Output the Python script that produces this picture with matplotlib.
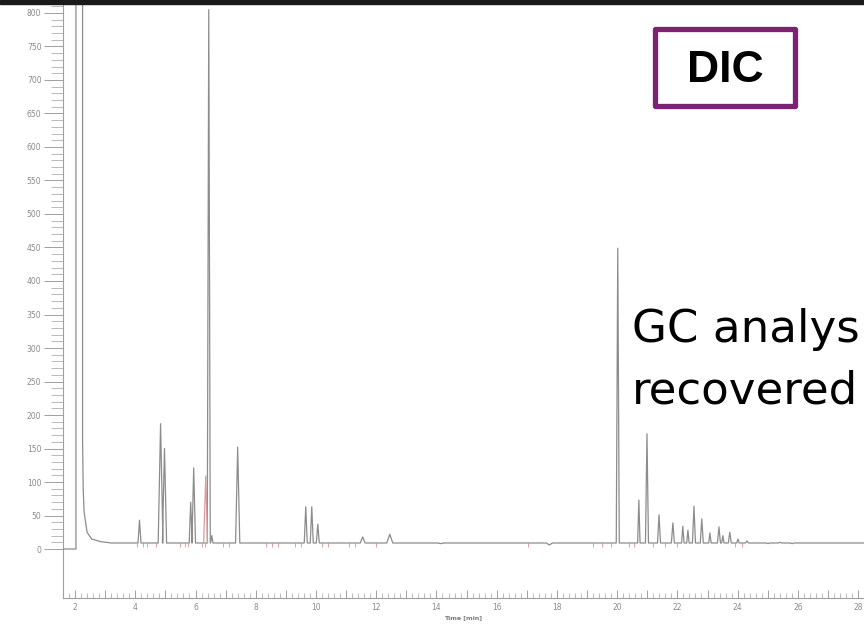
import matplotlib
matplotlib.use('Agg')
import matplotlib.pyplot as plt
from matplotlib.patches import Rectangle
from matplotlib.ticker import MultipleLocator, FixedLocator, FuncFormatter
import numpy as np

# chromatogram (time in min, signal)
BASE = 9
solvent_t = [1.6, 2.03, 2.03, 2.25, 2.25, 2.27, 2.30, 2.40, 2.55, 2.85, 3.2]
solvent_y = [0, 0, 900, 900, 160, 90, 55, 25, 15, 11, BASE]

peak_t = [4.14, 4.84, 4.97, 5.84, 5.94, 6.44, 6.54, 7.40, 9.66, 9.86, 10.06,
          11.55, 12.45, 14.14, 17.75, 20.02, 20.72, 20.99, 21.39, 21.85, 22.18,
          22.35, 22.55, 22.81, 23.08, 23.38, 23.51, 23.74, 24.01, 24.31, 25.01,
          25.41, 25.81]
peak_h = [43, 187, 150, 70, 121, 805, 20, 152, 63, 63, 37,
          18, 22, 8, 6, 449, 73, 172, 51, 39, 34,
          28, 64, 45, 24, 33, 20, 25, 15, 12, 8,
          10, 8]
peak_w = [0.05, 0.08, 0.07, 0.05, 0.06, 0.05, 0.04, 0.07, 0.05, 0.05, 0.05,
          0.08, 0.1, 0.1, 0.1, 0.05, 0.04, 0.05, 0.05, 0.05, 0.04,
          0.04, 0.05, 0.05, 0.04, 0.05, 0.04, 0.05, 0.04, 0.05, 0.06,
          0.06, 0.06]
end_t = 28.3

# the one peak drawn in red (integration trace)
red_t = [6.27, 6.34, 6.40]
red_y = [BASE, 109, BASE]
# red integration marks along the baseline
mark_t = [4.05, 4.25, 4.4, 4.7, 5.5, 5.65, 5.75, 6.2, 6.3, 6.9, 7.1, 8.35, 8.55,
          8.75, 9.3, 9.5, 10.2, 10.4, 11.1, 11.3, 12.0, 17.05, 19.2, 19.5, 19.8,
          20.4, 20.55, 21.2, 21.6, 22.0, 23.9, 24.15]

# trace vertices
trace_t = list(solvent_t)
trace_y = list(solvent_y)
for t, h, w in zip(peak_t, peak_h, peak_w):
    trace_t += [t - w, t, t + w]
    trace_y += [BASE, h, BASE]
trace_t.append(end_t)
trace_y.append(BASE)

W, H = 864, 625
fig = plt.figure(figsize=(W / 100, H / 100), dpi=100)
fig.patches.append(Rectangle((0, 1 - 4 / H), 1, 4 / H, transform=fig.transFigure,
                             color='#1a1a1a', zorder=0))

ax = fig.add_axes([63 / W, 1 - 598 / H, 1 - 63 / W, (598 - 4) / H])
ax.plot(trace_t, trace_y, color='#8c8c8c', lw=0.9, zorder=3)
ax.plot(red_t, red_y, color='#d89a9a', lw=0.9, zorder=4)
ax.plot(mark_t, [BASE - 3] * len(mark_t), ls='none', marker='|', ms=3,
        mew=0.7, color='#dca3a3', zorder=2)

ax.set_xlim(1.6, 2 + (W - 75.5) / 30.1)
ax.set_ylim(-73.1, 813.4)

for s in ['top', 'right']:
    ax.spines[s].set_visible(False)
for s in ['left', 'bottom']:
    ax.spines[s].set_color('#a0a0a0')
    ax.spines[s].set_linewidth(0.8)

ax.yaxis.set_major_locator(FixedLocator(np.arange(0, 801, 50)))
ax.yaxis.set_minor_locator(FixedLocator(np.arange(0, 811, 10)))
ax.tick_params(axis='y', which='major', direction='out', length=14, width=0.7,
               color='#a0a0a0', labelsize=5.5, labelcolor='#8a8a8a', pad=1.5)
ax.tick_params(axis='y', which='minor', direction='out', length=9, width=0.6,
               color='#b0b0b0')

ax.xaxis.set_major_locator(MultipleLocator(1))
ax.xaxis.set_minor_locator(MultipleLocator(0.2))
ax.xaxis.set_major_formatter(FuncFormatter(lambda v, p: '%d' % v if int(round(v)) % 2 == 0 else ''))
ax.tick_params(axis='x', which='major', direction='in', length=6, width=0.7,
               color='#a0a0a0', labelsize=5.5, labelcolor='#8a8a8a', pad=3.5)
ax.tick_params(axis='x', which='minor', direction='in', length=3.5, width=0.6,
               color='#b0b0b0')

ax.set_xlabel('Time [min]', fontsize=4.5, fontweight='bold', color='#7a7a7a')
ax.xaxis.set_label_coords((463 - 63) / (W - 63), -0.028)

# DIC label box
fig.patches.append(Rectangle((654.5 / W, 1 - 105.5 / H), 140 / W, 77 / H,
                             transform=fig.transFigure, fill=False,
                             edgecolor='#7b2272', lw=3.8, joinstyle='round'))
fig.text(725 / W, 1 - 82 / H, 'DIC', ha='center', va='baseline', fontsize=32,
         fontweight='bold', family='Liberation Sans', color='black')

fig.text(632 / W, 1 - 342 / H, 'GC analys', ha='left', va='baseline',
         fontsize=32.5, family='DejaVu Sans', color='black')
fig.text(632 / W, 1 - 403 / H, 'recovered', ha='left', va='baseline',
         fontsize=32.5, family='DejaVu Sans', color='black')

fig.savefig('out.png', dpi=100)
